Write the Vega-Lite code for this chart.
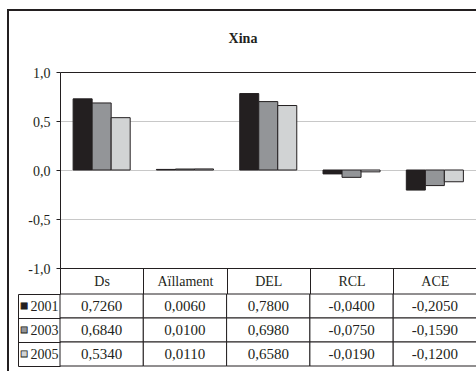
{
  "$schema": "https://vega.github.io/schema/vega-lite/v6.json",
  "autosize": {"type": "none"},
  "padding": {"left": 8, "top": 10, "right": -2, "bottom": -1},
  "width": 470,
  "height": 362,
  "title": {"text": "Xina", "anchor": "middle", "frame": "group", "offset": -32, "dy": 22, "baseline": "alphabetic", "fontSize": 14, "fontWeight": "bold", "font": "Liberation Serif", "color": "#231f20"},
  "config": {
    "font": "Liberation Serif",
    "view": {"stroke": "#231f20", "strokeWidth": 2},
    "locale": {"number": {"decimal": ",", "thousands": ".", "grouping": [3], "currency": ["", ""], "minus": "-"}},
    "axis": {"labelFont": "Liberation Serif", "labelColor": "#231f20", "labelFontSize": 14}
  },
  "data": {"values": [
    {"cat": "Ds", "year": "2001", "value": 0.726},
    {"cat": "Ds", "year": "2003", "value": 0.684},
    {"cat": "Ds", "year": "2005", "value": 0.534},
    {"cat": "Aïllament", "year": "2001", "value": 0.006},
    {"cat": "Aïllament", "year": "2003", "value": 0.010},
    {"cat": "Aïllament", "year": "2005", "value": 0.011},
    {"cat": "DEL", "year": "2001", "value": 0.780},
    {"cat": "DEL", "year": "2003", "value": 0.698},
    {"cat": "DEL", "year": "2005", "value": 0.658},
    {"cat": "RCL", "year": "2001", "value": -0.040},
    {"cat": "RCL", "year": "2003", "value": -0.075},
    {"cat": "RCL", "year": "2005", "value": -0.019},
    {"cat": "ACE", "year": "2001", "value": -0.205},
    {"cat": "ACE", "year": "2003", "value": -0.159},
    {"cat": "ACE", "year": "2005", "value": -0.120}
  ]},
  "encoding": {
    "x": {
      "field": "cat", "type": "nominal",
      "scale": {"domain": ["Ds", "Aïllament", "DEL", "RCL", "ACE"], "range": [52, 468.5], "paddingInner": 0, "paddingOuter": 0},
      "axis": {"orient": "bottom", "offset": -104, "title": null, "domainColor": "#231f20", "domainWidth": 1, "tickBand": "extent", "tickSize": 26, "tickColor": "#231f20", "tickWidth": 1, "labelAngle": 0, "labelBaseline": "middle", "labelPadding": -13, "labelFontSize": 14, "labelColor": "#231f20", "grid": false}
    }
  },
  "layer": [
    {
      "mark": {"type": "bar", "stroke": "#231f20", "strokeWidth": 1},
      "encoding": {
        "xOffset": {"field": "year", "type": "nominal", "scale": {"paddingInner": 0, "paddingOuter": 0.69}},
        "y": {
          "field": "value", "type": "quantitative",
          "scale": {"domain": [-1, 1], "range": [258, 62], "nice": false},
          "axis": {"orient": "left", "offset": -52, "values": [-1, -0.5, 0, 0.5, 1], "format": ".1f", "title": null, "domainColor": "#231f20", "domainWidth": 1, "tickColor": "#231f20", "tickSize": 4, "labelPadding": 6, "labelOffset": 1, "grid": true, "gridColor": {"condition": {"test": "abs(datum.value) == 1", "value": "#231f20"}, "value": "#c8c8c8"}, "gridWidth": 1}
        },
        "color": {"field": "year", "type": "nominal", "scale": {"domain": ["2001", "2003", "2005"], "range": ["#231f20", "#939598", "#d1d3d4"]}, "legend": null}
      }
    },
    {
      "encoding": {
        "y": {
          "field": "year", "type": "ordinal",
          "scale": {"domain": ["2001", "2003", "2005"], "range": [284, 356], "paddingInner": 0, "paddingOuter": 0},
          "axis": {"orient": "left", "offset": -10, "title": null, "domainColor": "#231f20", "domainWidth": 1, "tickBand": "extent", "tickSize": -42, "tickColor": "#231f20", "tickWidth": 1, "labelPadding": 2, "labelFontSize": 14, "labelColor": "#231f20", "grid": false}
        }
      },
      "layer": [
        {
          "mark": {"type": "rect", "fill": "white", "stroke": "#231f20", "strokeWidth": 1}
        },
        {
          "mark": {"type": "text", "fontSize": 15, "color": "#231f20", "baseline": "middle", "align": "center"},
          "encoding": {"text": {"field": "value", "type": "quantitative", "format": ".4f"}}
        },
        {
          "transform": [{"filter": "datum.cat == 'Ds'"}],
          "mark": {"type": "text", "text": "■", "font": "DejaVu Sans", "fontSize": 8, "dx": -77.6, "align": "center", "baseline": "middle", "stroke": "#231f20", "strokeWidth": 0.8},
          "encoding": {
            "color": {"field": "year", "type": "nominal", "legend": null}
          }
        }
      ]
    }
  ],
  "resolve": {"scale": {"y": "independent"}}
}
